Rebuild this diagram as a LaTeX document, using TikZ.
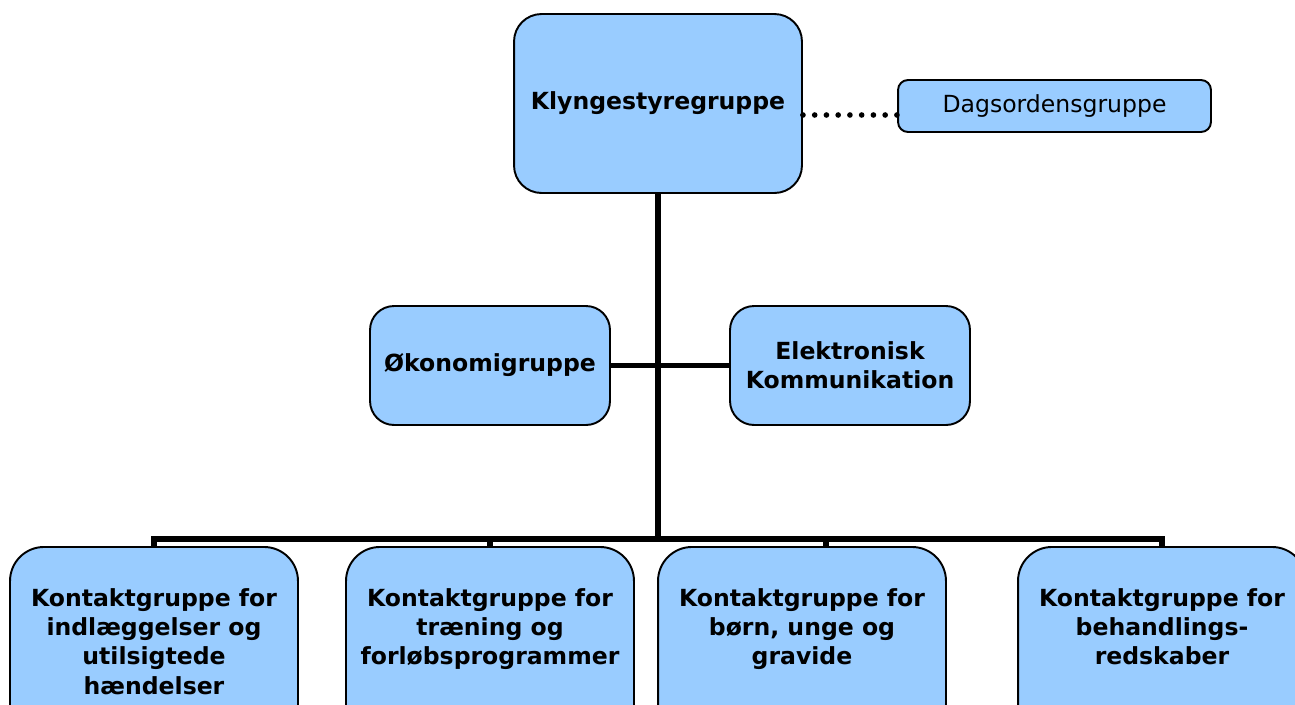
\documentclass[tikz,border=0pt]{standalone}
\usepackage{fontspec}
\setmainfont{DejaVu Sans}
\usetikzlibrary{calc,positioning}
\definecolor{ink}{HTML}{000000}
\definecolor{sky}{HTML}{99CCFF}

\begin{document}
\begin{tikzpicture}[x=0.02cm,y=-0.02cm,
  grp/.style={draw=ink,fill=sky,line width=1.1pt,rounded corners=0.48cm,align=center,font=\bfseries\fontsize{13.4}{16.7}\selectfont},
  kbox/.style={grp,rounded corners=0.68cm,minimum width=5.76cm,minimum height=4.3cm,anchor=north},
  ktxt/.style={anchor=north,yshift=-0.72cm,align=center,font=\bfseries\fontsize{13.4}{16.7}\selectfont},
  link/.style={draw=ink,line width=3.4pt}]
\useasboundingbox (0,0) rectangle (1295,704);
% top of the tree
\node[grp,rounded corners=0.55cm,minimum width=5.76cm,minimum height=3.58cm] (ks) at (658,103.5) {Klyngestyregruppe};
\node[grp,font=\fontsize{13.4}{16.7}\selectfont,rounded corners=0.2cm,minimum width=6.26cm,minimum height=1.04cm] (dag) at (1054.5,106) {Dagsordensgruppe};
\node[grp,minimum width=4.8cm,minimum height=2.38cm] (oek) at (490,365.5) {Økonomigruppe};
\node[grp,minimum width=4.8cm,minimum height=2.38cm] (ek) at (850,365.5) {Elektronisk\\Kommunikation};
% contact groups
\node[kbox,label={[ktxt]north:{Kontaktgruppe for\\indlæggelser og\\utilsigtede\\hændelser}}] (k1) at (154,546) {};
\node[kbox,label={[ktxt]north:{Kontaktgruppe for\\træning og\\forløbsprogrammer}}] (k2) at (490,546) {};
\node[kbox,label={[ktxt]north:{Kontaktgruppe for\\børn, unge og\\gravide}}] (k3) at (802,546) {};
\node[kbox,label={[ktxt]north:{Kontaktgruppe for\\behandlings-\\redskaber}}] (k4) at (1162,546) {};
\coordinate (bus) at (658,539);
\draw[link] (ks.south) -- (bus);
\draw[link] (oek.east) -- (ek.west);
\draw[link] (bus) -| (k1.north);
\draw[link] (bus) -| (k2.north);
\draw[link] (bus) -| ([xshift=0.48cm]k3.north);
\draw[link] (bus) -| (k4.north);
\draw[ink,line width=3.2pt,line cap=round,dash pattern=on 0pt off 0.235cm] ($(ks.east)+(0,11.5)$) -- ($(dag.west)+(0,9)$);
\end{tikzpicture}
\end{document}
